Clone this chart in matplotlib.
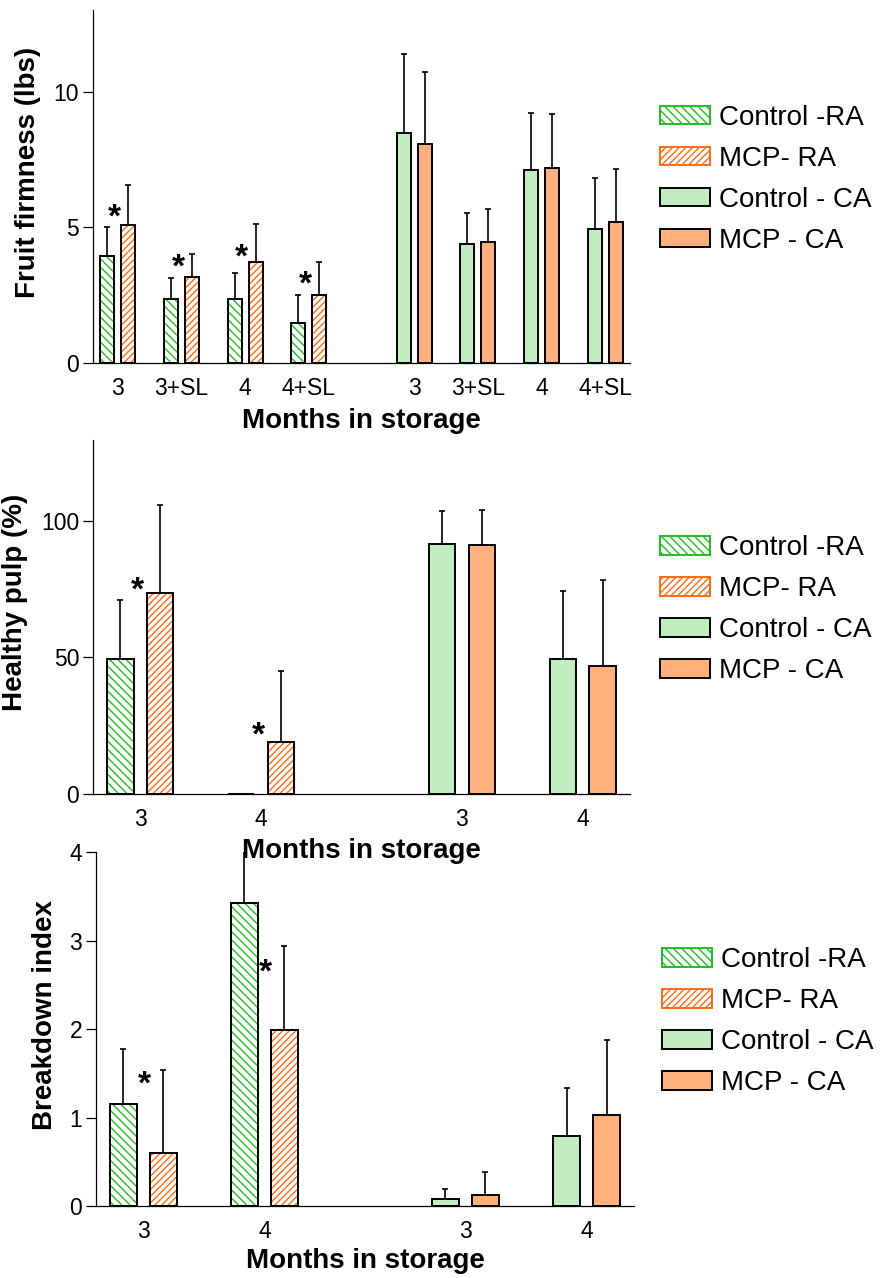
#!/usr/bin/env python3
"""Fruit firmness, healthy pulp and breakdown index: RA vs CA storage, with and without MCP."""

import matplotlib

matplotlib.use("Agg")
import matplotlib.pyplot as plt
import matplotlib.transforms as mtransforms
import numpy as np

plt.rcParams["font.family"] = ["Liberation Sans", "DejaVu Sans"]
plt.rcParams["hatch.linewidth"] = 1.0

# ---- data -------------------------------------------------------------------
firm_labels = ["3", "3+SL", "4", "4+SL"]
firm_ctrl_ra = [3.93, 2.35, 2.35, 1.46]
firm_ctrl_ra_err = [1.07, 0.78, 0.95, 1.03]
firm_mcp_ra = [5.10, 3.17, 3.73, 2.51]
firm_mcp_ra_err = [1.45, 0.83, 1.39, 1.22]
firm_ctrl_ca = [8.46, 4.37, 7.11, 4.95]
firm_ctrl_ca_err = [2.94, 1.15, 2.12, 1.86]
firm_mcp_ca = [8.07, 4.45, 7.17, 5.20]
firm_mcp_ca_err = [2.65, 1.21, 2.02, 1.95]
firm_star_y = [5.57, 3.72, 4.12, 3.10]

pulp_labels = ["3", "4"]
pulp_ctrl_ra = [49.6, 0.0]
pulp_ctrl_ra_err = [21.6, 0.0]
pulp_mcp_ra = [73.7, 19.1]
pulp_mcp_ra_err = [32.2, 26.0]
pulp_ctrl_ca = [91.8, 49.4]
pulp_ctrl_ca_err = [11.9, 25.0]
pulp_mcp_ca = [91.2, 46.9]
pulp_mcp_ca_err = [13.0, 31.7]
pulp_star_y = [76.8, 23.5]

brk_labels = ["3", "4"]
brk_ctrl_ra = [1.15, 3.42]
brk_ctrl_ra_err = [0.63, 1.00]
brk_mcp_ra = [0.60, 1.99]
brk_mcp_ra_err = [0.94, 0.95]
brk_ctrl_ca = [0.075, 0.787]
brk_ctrl_ca_err = [0.115, 0.55]
brk_mcp_ca = [0.13, 1.024]
brk_mcp_ca_err = [0.254, 0.848]
brk_star_y = [1.44, 2.71]

series_names = ["Control -RA", "MCP- RA", "Control - CA", "MCP - CA"]

# ---- style --------------------------------------------------------------------
GREEN_HATCH = "#1fbf1f"
ORANGE_HATCH = "#ff6a14"
GREEN_FILL = "#c0ecc0"
ORANGE_FILL = "#ffb07c"
BAR_W = 0.22
OFFSET = 0.165
GAP = 0.66
TICK_FS = 16.5
LABEL_FS = 20


def draw_bars(ax, x, vals, errs, face, hatch, hatch_color, label):
    bars = ax.bar(x, vals, BAR_W, color=face, edgecolor="black", linewidth=1.4,
                  hatch=hatch, label=label, zorder=2)
    if hatch:
        for b in bars:
            b.set_edgecolor(hatch_color)
        # outline drawn again in black on top of the hatch-coloured edge
        ax.bar(x, vals, BAR_W, fill=False, edgecolor="black", linewidth=1.4, zorder=3)
    vals = np.asarray(vals, float)
    errs = np.asarray(errs, float)
    keep = errs > 0
    ax.errorbar(np.asarray(x)[keep], vals[keep], yerr=[np.zeros(keep.sum()), errs[keep]],
                fmt="none", ecolor="black", elinewidth=1.2, capsize=2.5, capthick=1.2, zorder=1)
    return bars


def panel(rect, labels, ctrl_ra, ctrl_ra_e, mcp_ra, mcp_ra_e, ctrl_ca, ctrl_ca_e,
          mcp_ca, mcp_ca_e, star_y, star_dx, ylim, yticks, ylabel, ylab_x, xlab_y, leg_anchor):
    ax = fig.add_axes(rect)
    ax.patch.set_visible(False)
    n = len(labels)
    ra_x = np.arange(n, dtype=float)
    ca_x = ra_x + n + GAP
    h1 = draw_bars(ax, ra_x - OFFSET, ctrl_ra, ctrl_ra_e, "white", "\\\\\\\\", GREEN_HATCH, series_names[0])
    h2 = draw_bars(ax, ra_x + OFFSET, mcp_ra, mcp_ra_e, "white", "/////", ORANGE_HATCH, series_names[1])
    h3 = draw_bars(ax, ca_x - OFFSET, ctrl_ca, ctrl_ca_e, GREEN_FILL, None, None, series_names[2])
    h4 = draw_bars(ax, ca_x + OFFSET, mcp_ca, mcp_ca_e, ORANGE_FILL, None, None, series_names[3])
    # star glyph sits high in its line: shift baseline down so the glyph centre hits y
    star_tr = mtransforms.offset_copy(ax.transData, fig=fig, x=0, y=-15, units="dots")
    for x, y in zip(ra_x + star_dx, star_y):
        ax.text(x, y, "*", ha="center", va="baseline", fontsize=24, fontweight="bold",
                transform=star_tr, zorder=4)

    ax.set_xlim(-0.39, ca_x[-1] + 0.39)
    ax.set_ylim(*ylim)
    ax.set_yticks(yticks)
    ax.set_xticks(np.concatenate([ra_x, ca_x]))
    ax.set_xticklabels(list(labels) + list(labels))
    ax.tick_params(axis="x", length=0, pad=10, labelsize=TICK_FS)
    ax.tick_params(axis="y", direction="out", length=7, width=0.9, pad=3, labelsize=TICK_FS)
    for side in ("top", "right"):
        ax.spines[side].set_visible(False)
    for side in ("left", "bottom"):
        ax.spines[side].set_linewidth(0.9)
    ax.set_ylabel(ylabel, fontsize=LABEL_FS, fontweight="bold")
    ax.yaxis.set_label_coords(ylab_x, 0.54)
    ax.set_xlabel("Months in storage", fontsize=LABEL_FS, fontweight="bold")
    ax.xaxis.set_label_coords(0.5, xlab_y)

    leg = fig.legend([h1, h2, h3, h4], series_names, loc="upper left",
                     bbox_to_anchor=leg_anchor, frameon=False, fontsize=LABEL_FS,
                     handlelength=1.8, handleheight=0.65, handletextpad=0.32,
                     labelspacing=0.54, borderpad=0, borderaxespad=0)
    for patch in leg.get_patches():
        patch.set_linewidth(1.4)
    return ax


fig = plt.figure(figsize=(8.86, 12.78), dpi=100)

panel([0.105, 0.716, 0.606, 0.276], firm_labels,
      firm_ctrl_ra, firm_ctrl_ra_err, firm_mcp_ra, firm_mcp_ra_err,
      firm_ctrl_ca, firm_ctrl_ca_err, firm_mcp_ca, firm_mcp_ca_err, firm_star_y, -0.05,
      (0, 13), [0, 5, 10], "Fruit firmness (lbs)", -0.097, -0.127, (0.745, 0.918))

panel([0.105, 0.379, 0.606, 0.277], pulp_labels,
      pulp_ctrl_ra, pulp_ctrl_ra_err, pulp_mcp_ra, pulp_mcp_ra_err,
      pulp_ctrl_ca, pulp_ctrl_ca_err, pulp_mcp_ca, pulp_mcp_ca_err, pulp_star_y, -0.02,
      (0, 130), [0, 50, 100], "Healthy pulp (%)", -0.122, -0.125, (0.745, 0.581))

panel([0.1084, 0.0563, 0.607, 0.277], brk_labels,
      brk_ctrl_ra, brk_ctrl_ra_err, brk_mcp_ra, brk_mcp_ra_err,
      brk_ctrl_ca, brk_ctrl_ca_err, brk_mcp_ca, brk_mcp_ca_err, brk_star_y, 0.01,
      (0, 4), [0, 1, 2, 3, 4], "Breakdown index", -0.070, -0.118, (0.747, 0.259))

fig.savefig("out.png", dpi=100)
